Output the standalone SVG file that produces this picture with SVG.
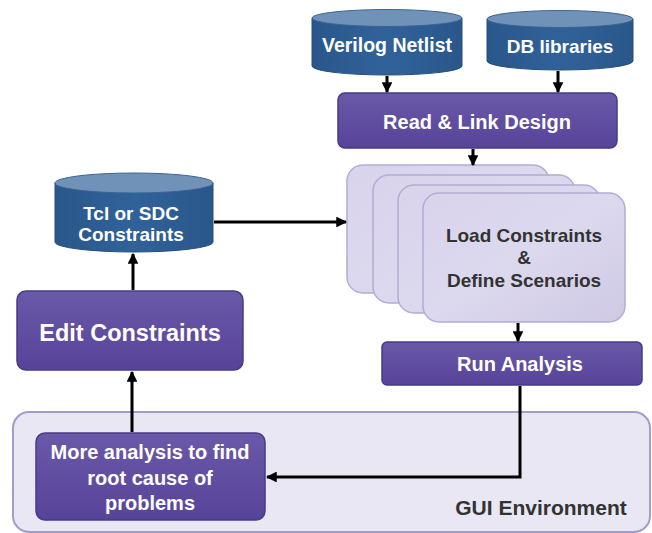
<svg xmlns="http://www.w3.org/2000/svg" width="652" height="533" viewBox="0 0 652 533">
<defs>
<linearGradient id="purple" x1="0" y1="0" x2="0" y2="1">
<stop offset="0" stop-color="#6a58a8"/>
<stop offset="1" stop-color="#57449a"/>
</linearGradient>
<linearGradient id="card" x1="0" y1="0" x2="1" y2="1">
<stop offset="0" stop-color="#d9d4ec"/>
<stop offset="0.5" stop-color="#dcd8ee"/>
<stop offset="1" stop-color="#cfc9e4"/>
</linearGradient>
<linearGradient id="cylBody" x1="0" y1="0" x2="1" y2="0">
<stop offset="0" stop-color="#2a578a"/>
<stop offset="0.5" stop-color="#30629a"/>
<stop offset="1" stop-color="#2a578a"/>
</linearGradient>
<marker id="arr" viewBox="0 0 10 10" refX="9" refY="5" markerWidth="3.6" markerHeight="3.6" orient="auto">
<path d="M0,0 L10,5 L0,10 z" fill="#000"/>
</marker>
</defs>
<style>
.cylBody{fill:url(#cylBody);stroke:#264f78;stroke-width:1}
.cylTop{fill:#7092b9;stroke:#3a6592;stroke-width:1}
.pbox{fill:url(#purple);stroke:#4a3a85;stroke-width:1.5}
.card{fill:url(#card);stroke:#b4acd2;stroke-width:1.5}
.wt{fill:#fff;font-family:"Liberation Sans",Arial,sans-serif;font-weight:bold;text-anchor:middle}
.dt{fill:#333;font-family:"Liberation Sans",Arial,sans-serif;font-weight:bold;text-anchor:middle}
.conn{stroke:#000;stroke-width:3;fill:none;marker-end:url(#arr)}
</style>

<g id="gui-environment">
<rect x="13" y="412" width="637" height="120" rx="16" fill="#e9e7f3" stroke="#a39cc6" stroke-width="2"/>
<text class="dt" x="541" y="515" font-size="21">GUI Environment</text>
</g>

<g id="verilog-netlist">
<path class="cylBody" d="M312,18 L312,66 A75,9 0 0 0 462,66 L462,18 Z"/>
<ellipse class="cylTop" cx="387" cy="18" rx="75" ry="8.5"/>
<text class="wt" x="387" y="52" font-size="19.5">Verilog Netlist</text>
</g>

<g id="db-libraries">
<path class="cylBody" d="M487,19 L487,61 A73,9 0 0 0 633,61 L633,19 Z"/>
<ellipse class="cylTop" cx="560" cy="19" rx="73" ry="8.5"/>
<text class="wt" x="560" y="53" font-size="19">DB libraries</text>
</g>

<g id="read-link-design">
<rect class="pbox" x="338" y="93" width="279" height="55" rx="7"/>
<text class="wt" x="477" y="129" font-size="20">Read &amp; Link Design</text>
</g>

<g id="load-constraints">
<rect class="card" x="347" y="165" width="202" height="128" rx="16"/>
<rect class="card" x="373" y="175" width="202" height="128" rx="16"/>
<rect class="card" x="398" y="185" width="202" height="128" rx="16"/>
<rect class="card" x="423" y="193" width="202" height="129" rx="16"/>
<text class="dt" x="524" y="242" font-size="19">Load Constraints</text>
<text class="dt" x="524" y="264" font-size="19">&amp;</text>
<text class="dt" x="524" y="287" font-size="19">Define Scenarios</text>
</g>

<g id="tcl-sdc-constraints">
<path class="cylBody" d="M55,183 L55,242 A79,10 0 0 0 213,242 L213,183 Z"/>
<ellipse class="cylTop" cx="134" cy="183" rx="79" ry="10"/>
<text class="wt" x="131" y="220" font-size="19">Tcl or SDC</text>
<text class="wt" x="131" y="241" font-size="19">Constraints</text>
</g>

<g id="edit-constraints">
<rect class="pbox" x="17" y="291" width="226" height="79" rx="9"/>
<text class="wt" x="130" y="341" font-size="23.5">Edit Constraints</text>
</g>

<g id="run-analysis">
<rect class="pbox" x="382" y="342" width="260" height="43" rx="5"/>
<text class="wt" x="520" y="371" font-size="20">Run Analysis</text>
</g>

<g id="more-analysis">
<rect class="pbox" x="36" y="433" width="229" height="87" rx="9"/>
<text class="wt" x="150" y="459" font-size="20">More analysis to find</text>
<text class="wt" x="150" y="485" font-size="20">root cause of</text>
<text class="wt" x="150" y="510" font-size="20">problems</text>
</g>

<g id="connectors">
<line class="conn" x1="387" y1="76" x2="387" y2="92"/>
<line class="conn" x1="558" y1="71" x2="558" y2="92"/>
<line class="conn" x1="473" y1="149" x2="473" y2="165"/>
<line class="conn" x1="214" y1="222" x2="346" y2="222"/>
<line class="conn" x1="518" y1="323" x2="518" y2="341"/>
<polyline class="conn" points="520,386 520,477 267,477"/>
<line class="conn" x1="133" y1="290" x2="133" y2="254"/>
<line class="conn" x1="132" y1="432" x2="132" y2="372"/>
</g>
</svg>
